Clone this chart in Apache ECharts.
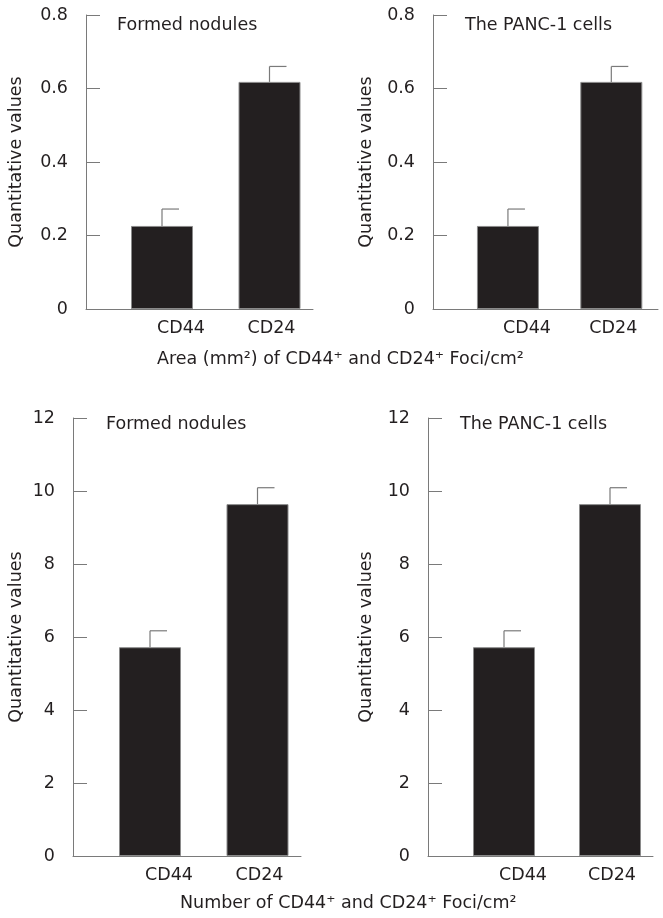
<!DOCTYPE html>
<html>
<head>
<meta charset="utf-8">
<script src="https://cdn.jsdelivr.net/npm/echarts@6/dist/echarts.min.js"></script>
<style>
html,body{margin:0;padding:0;background:#fff;}
#chart{width:663px;height:918px;}
</style>
</head>
<body>
<div id="chart"></div>
<script>
// ---- data ----
const categories = ['CD44', 'CD24'];
const areaNodules = [0.226, 0.618];
const areaNodulesErr = [0.046, 0.042];
const areaPanc = [0.226, 0.618];
const areaPancErr = [0.046, 0.042];
const numberNodules = [5.72, 9.64];
const numberNodulesErr = [0.45, 0.45];
const numberPanc = [5.72, 9.64];
const numberPancErr = [0.45, 0.45];
const areaTicks = [0, 0.2, 0.4, 0.6, 0.8];
const numberTicks = [0, 2, 4, 6, 8, 10, 12];
const panelTitles = ['Formed nodules', 'The PANC-1 cells', 'Formed nodules', 'The PANC-1 cells'];
const yName = 'Quantitative values';
const areaTitle = 'Area (mm\u00B2) of CD44\u207A and CD24\u207A Foci/cm\u00B2';
const numberTitle = 'Number of CD44\u207A and CD24\u207A Foci/cm\u00B2';

// ---- styling ----
const FONT = 'DejaVu Sans';
const TXT = '#231f20';
const AX = '#7a7a7a';
const BAR = '#231f20';

const panels = [
  {vals: areaNodules, errs: areaNodulesErr, ticks: areaTicks, axisX: 86, lineEnd: 313, barLeft: 108.25, top: 15, bottom: 309, nameGap: 61},
  {vals: areaPanc, errs: areaPancErr, ticks: areaTicks, axisX: 433, lineEnd: 658, barLeft: 456.25, top: 15, bottom: 309, nameGap: 58},
  {vals: numberNodules, errs: numberNodulesErr, ticks: numberTicks, axisX: 73, lineEnd: 301, barLeft: 96.25, top: 418, bottom: 856, nameGap: 48},
  {vals: numberPanc, errs: numberPancErr, ticks: numberTicks, axisX: 428, lineEnd: 653, barLeft: 451, top: 418, bottom: 856, nameGap: 53}
];
const titlePos = [[117, 16], [465, 16], [106, 415], [460, 415]];

const grid = [], xAxis = [], yAxis = [], series = [], title = [];

panels.forEach((p, i) => {
  const tmin = p.ticks[0], tmax = p.ticks[p.ticks.length - 1];
  const interval = p.ticks[1] - p.ticks[0];
  const h = p.bottom - p.top;
  // grid A: visible axes frame
  grid.push({left: p.axisX, width: p.lineEnd - p.axisX, top: p.top, height: h});
  // grid B: bars
  grid.push({left: p.barLeft, width: 215, top: p.top, height: h});
  const gA = 2 * i, gB = 2 * i + 1;
  xAxis.push({
    gridIndex: gA, type: 'category', data: categories,
    axisLine: {show: true, lineStyle: {color: AX, width: 1}},
    axisTick: {show: false}, axisLabel: {show: false}, splitLine: {show: false}
  });
  xAxis.push({
    gridIndex: gB, type: 'category', data: categories,
    axisLine: {show: false}, axisTick: {show: false},
    axisLabel: {
      show: true, interval: 0, hideOverlap: false, margin: 10, color: TXT, fontFamily: FONT, fontSize: 17.5,
      formatter: (v, idx) => idx === 0 ? '{a|' + v + '}' : '{b|' + v + '}',
      rich: {
        a: {fontFamily: FONT, fontSize: 17.5, color: TXT, padding: [0, 0, 0, 38]},
        b: {fontFamily: FONT, fontSize: 17.5, color: TXT, padding: [0, 0, 0, 4]}
      }
    }
  });
  yAxis.push({
    gridIndex: gA, type: 'value', min: tmin, max: tmax, interval: interval,
    name: yName, nameLocation: 'middle', nameGap: p.nameGap, nameRotate: 90,
    nameTextStyle: {color: TXT, fontFamily: FONT, fontSize: 17.5},
    axisLine: {show: true, lineStyle: {color: AX, width: 1}},
    axisTick: {show: true, inside: true, length: 14, lineStyle: {color: AX, width: 1}},
    axisLabel: {color: TXT, fontFamily: FONT, fontSize: 17.5, margin: 18},
    splitLine: {show: false}
  });
  yAxis.push({
    gridIndex: gB, type: 'value', min: tmin, max: tmax, interval: interval, show: false
  });
  series.push({
    type: 'bar', xAxisIndex: gB, yAxisIndex: gB, data: p.vals, barWidth: 62,
    itemStyle: {color: BAR, borderColor: '#8a8a8a', borderWidth: 1}
  });
  series.push({
    type: 'custom', xAxisIndex: gB, yAxisIndex: gB,
    data: p.vals.map((v, k) => [k, v, p.errs[k]]),
    encode: {x: 0, y: 1},
    renderItem: (params, api) => {
      const x = api.value(0), v = api.value(1), e = api.value(2);
      const p0 = api.coord([x, v]);
      const p1 = api.coord([x, v + e]);
      const st = {stroke: AX, lineWidth: 1.2};
      return {type: 'group', children: [
        {type: 'line', shape: {x1: p0[0], y1: p0[1], x2: p1[0], y2: p1[1]}, style: st},
        {type: 'line', shape: {x1: p1[0], y1: p1[1], x2: p1[0] + 17, y2: p1[1]}, style: st}
      ]};
    },
    z: 3
  });
  title.push({
    text: panelTitles[i], left: titlePos[i][0], top: titlePos[i][1],
    textStyle: {color: TXT, fontFamily: FONT, fontSize: 17.5, fontWeight: 'normal'}, padding: 0
  });
});
title.push({text: areaTitle, left: 157, top: 350, padding: 0,
  textStyle: {color: TXT, fontFamily: FONT, fontSize: 17.5, fontWeight: 'normal'}});
title.push({text: numberTitle, left: 180, top: 894, padding: 0,
  textStyle: {color: TXT, fontFamily: FONT, fontSize: 17.5, fontWeight: 'normal'}});

const chart = echarts.init(document.getElementById('chart'), null, {renderer: 'canvas'});
chart.setOption({
  animation: false,
  backgroundColor: '#ffffff',
  title: title,
  grid: grid,
  xAxis: xAxis,
  yAxis: yAxis,
  series: series
});
</script>
</body>
</html>
